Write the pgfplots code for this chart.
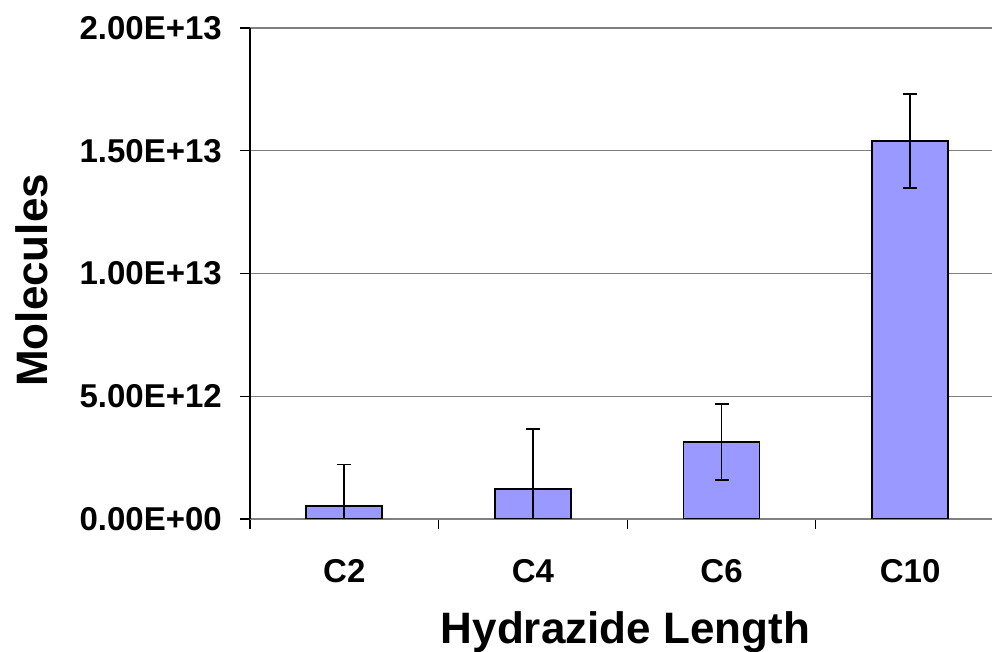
\documentclass[border=0pt]{standalone}
\usepackage{fontspec}
\setmainfont{Liberation Sans}
\usepackage{pgfplots}
\pgfplotsset{compat=1.18}
\definecolor{barblue}{HTML}{9999FF}
\definecolor{gridgray}{HTML}{808080}
\begin{document}
\begin{tikzpicture}
\begin{axis}[
  scale only axis,
  width=742pt, height=491pt,
  xmin=-0.5, xmax=3.434,
  ymin=0, ymax=2e13,
  axis x line*=bottom,
  axis y line*=left,
  x axis line style={draw=gridgray, line width=1.2pt},
  y axis line style={draw=black, line width=1.2pt},
  ybar, bar width=76pt,
  xtick={0,1,2,3},
  xticklabels={C2,C4,C6,C10},
  minor xtick={-0.5,0.5,1.5,2.5},
  ytick={0,5e12,1e13,1.5e13,2e13},
  minor ytick={0,5e12,1e13,1.5e13,2e13},
  yticklabels={0.00E+00,5.00E+12,1.00E+13,1.50E+13,2.00E+13},
  scaled y ticks=false,
  tick align=outside,
  major tick style={draw=none},
  minor tick style={draw=black, line width=1.2pt},
  minor tick length=10pt,
  major tick length=10pt,
  ymajorgrids,
  major grid style={draw=gridgray, line width=1.2pt},
  ticklabel style={font=\fontsize{33}{36}\selectfont\bfseries},
  xticklabel style={anchor=base, inner sep=0pt, yshift=-53.7pt},
  yticklabel style={anchor=east, inner sep=0pt, xshift=-18pt},
  xlabel={Hydrazide Length},
  ylabel={Molecules},
  label style={font=\fontsize{44}{48}\selectfont\bfseries},
  xlabel style={at={(axis description cs:0.506,0)}, anchor=base, inner sep=0pt, yshift=-124pt},
  ylabel style={at={(axis description cs:-0.2726,0.486)}, anchor=base, inner sep=0pt},
  clip=true,
]
\addplot[fill=barblue, draw=black, line width=1.8pt,
  error bars/.cd, y dir=both, y explicit,
  error bar style={line width=1.7pt, black},
  error mark options={rotate=90, mark size=7pt, line width=1.7pt, black}]
  coordinates {
    (0,0.53e12) +- (0,1.69e12)
    (1,1.22e12) +- (0,2.45e12)
    (2,3.14e12) +- (0,1.54e12)
    (3,15.40e12) +- (0,1.92e12)
  };
\end{axis}
\pgfresetboundingbox
\path[use as bounding box] (-250pt,-133pt) rectangle (742pt,519pt);
\end{tikzpicture}
\end{document}
